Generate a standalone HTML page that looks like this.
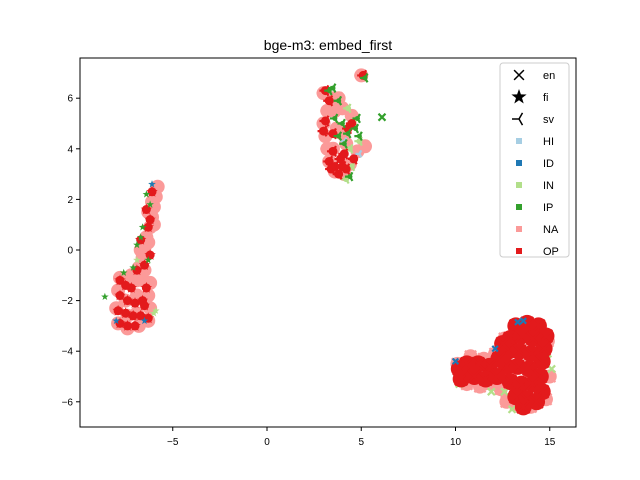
<!DOCTYPE html>
<html><head><meta charset="utf-8"><style>
body{margin:0;background:#fff;}
svg{display:block;font-family:"Liberation Sans","DejaVu Sans",sans-serif;}
</style></head><body>
<svg id="chart" width="640" height="480" viewBox="0 0 640 480">
<rect x="0" y="0" width="640" height="480" fill="#fff"/>
<text x="328" y="50" text-anchor="middle" font-size="14">bge-m3: embed_first</text>
<g id="marks"></g>
<rect x="80" y="58" width="496" height="369" fill="none" stroke="#000" stroke-width="1"/>
<g id="axes"></g>
<g id="legend"></g>
</svg>
<script>
const xTicks=[-5,0,5,10,15];
const yTicks=[-6,-4,-2,0,2,4,6];
const seriesNames=["HI","ID","IN","IP","NA","OP"];
const langNames=["en","fi","sv"];
// fi cluster (stars)
const fiNA=[[-5.8,2.5],[-5.9,2.1],[-6.0,1.7],[-6.1,1.3],[-6.2,0.9],[-6.4,0.5],[-6.5,0.1],[-6.6,-0.3],[-6.8,-0.7],[-6.3,0.3],[-6.0,1.0],[-6.5,-0.8],[-6.2,-1.3],[-6.3,-1.8],[-6.2,-2.3],[-6.3,-2.8],[-6.8,-3.0],[-7.4,-3.1],[-7.9,-2.9],[-8.0,-2.3],[-7.9,-1.6],[-7.8,-1.1],[-7.2,-1.0],[-6.9,-1.8],[-6.9,-2.5],[-7.5,-2.0],[-6.6,-1.2],[-6.1,1.9],[-6.3,1.5],[-6.7,0.0],[-6.9,-1.2],[-7.5,-1.3],[-7.4,-2.6]];
const fiOP=[[-7.8,-1.2],[-7.5,-1.4],[-7.2,-1.5],[-7.8,-1.8],[-7.4,-2.0],[-7.0,-2.1],[-6.6,-2.0],[-7.9,-2.4],[-7.5,-2.5],[-7.1,-2.6],[-6.7,-2.6],[-7.8,-2.9],[-7.4,-3.0],[-7.0,-3.0],[-6.5,-2.2],[-6.4,-1.5],[-6.3,-2.7],[-6.1,2.3],[-6.4,1.6],[-6.2,1.2],[-6.3,0.9],[-6.7,0.4],[-6.2,-0.2],[-6.5,-0.6],[-6.9,-0.8]];
const fiIP=[[-8.6,-1.85],[-7.1,-0.7],[-6.3,-0.4],[-6.9,0.2],[-6.7,0.5],[-6.6,0.9],[-6.2,1.8],[-6.4,2.2],[-7.6,-0.9]];
const fiIN=[[-6.0,-2.5],[-5.9,-2.4],[-6.9,-0.4],[-6.1,2.6]];
const fiID=[[-8.0,-2.8],[-6.5,-2.8],[-6.1,2.6]];
// sv cluster
const svNA=[[3.0,6.2],[3.2,5.5],[3.0,5.0],[3.1,4.5],[3.2,4.0],[3.3,3.5],[3.6,3.1],[4.1,3.0],[4.4,3.4],[4.8,3.9],[5.2,4.1],[4.2,4.2],[3.7,4.8],[3.6,5.5],[3.8,6.0],[5.0,6.9],[3.5,4.0],[4.5,5.3],[4.0,4.6],[3.4,6.0],[4.0,5.6]];
const svOP=[[3.1,6.3],[3.3,5.9],[3.1,5.1],[3.5,4.6],[3.0,4.7],[3.3,3.5],[3.6,3.3],[3.9,3.6],[4.2,3.2],[3.8,3.0],[4.1,3.8],[3.5,3.9],[4.3,4.8],[4.5,5.0],[5.1,6.9],[4.6,3.6],[3.4,3.2],[4.0,3.3]];
const svIP=[[3.5,6.4],[3.8,5.9],[4.0,5.0],[4.3,4.6],[4.7,4.8],[4.9,4.5],[4.1,4.2],[3.8,4.5],[3.6,5.2],[4.4,2.9],[5.2,6.8],[3.3,6.3],[4.8,5.2]];
const svIN=[[4.3,5.6],[4.6,5.1],[4.9,4.3],[4.4,4.0],[4.2,2.8],[4.5,3.3]];
const svHI=[[4.9,3.8],[4.1,4.3]];
// en cluster
const enOP=[[13.2,-3.0],[13.8,-2.9],[14.4,-3.0],[14.8,-3.4],[12.9,-3.5],[13.5,-3.4],[14.1,-3.5],[14.7,-3.9],[12.8,-4.0],[13.4,-4.0],[14.0,-4.1],[14.6,-4.4],[12.7,-4.6],[13.3,-4.6],[13.9,-4.7],[14.5,-5.0],[12.9,-5.2],[13.5,-5.3],[14.1,-5.3],[14.6,-5.6],[13.2,-5.8],[13.8,-5.9],[14.3,-6.0],[12.3,-4.3],[11.8,-4.6],[11.2,-4.5],[10.6,-4.5],[10.2,-4.7],[10.3,-5.1],[11.0,-5.0],[11.6,-5.1],[12.2,-5.0],[12.5,-3.7],[13.6,-6.2]];
const enNA=[[10.1,-4.5],[10.6,-5.3],[11.3,-5.4],[11.9,-5.3],[12.4,-5.5],[12.7,-6.0],[13.2,-6.1],[14.0,-6.2],[14.8,-5.9],[15.0,-5.0],[11.5,-4.3],[12.1,-4.1],[12.6,-3.5],[14.9,-3.6],[10.8,-4.2]];
const enIN=[[14.9,-4.1],[14.3,-4.4],[12.6,-5.6],[11.9,-5.6],[13.0,-6.3],[10.2,-5.3],[15.1,-4.7]];
const enID=[[13.3,-2.85],[10.0,-4.4],[12.1,-3.9],[13.6,-2.8]];
const enIP=[[6.1,5.25]];

const C={HI:"#a6cee3",ID:"#1f78b4",IN:"#b2df8a",IP:"#33a02c",NA:"#fb9a99",OP:"#e31a1c"};
const NS="http://www.w3.org/2000/svg";
function sx(v){return 267+18.85*v;}
function sy(v){return 250-25.3*v;}
function mk(tag,attrs,parent){const e=document.createElementNS(NS,tag);for(const k in attrs)e.setAttribute(k,attrs[k]);parent.appendChild(e);return e;}
function starPts(cx,cy,r){let p=[];for(let i=0;i<10;i++){const a=-Math.PI/2+i*Math.PI/5;const rr=i%2?r*0.4:r;p.push((cx+rr*Math.cos(a)).toFixed(1)+","+(cy+rr*Math.sin(a)).toFixed(1));}return p.join(" ");}
function drawMarker(g,shape,cx,cy,r,col,bold){
  if(shape==="fi"){return mk("polygon",{points:starPts(cx,cy,r),fill:col},g);}
  if(shape==="en"){return mk("path",{d:`M${cx-r*0.7},${cy-r*0.7}L${cx+r*0.7},${cy+r*0.7}M${cx-r*0.7},${cy+r*0.7}L${cx+r*0.7},${cy-r*0.7}`,stroke:col,"stroke-width":bold||2.2,fill:"none"},g);}
  return mk("path",{d:`M${cx},${cy}L${cx-r},${cy}M${cx},${cy}L${cx+r*0.5},${cy-r*0.87}M${cx},${cy}L${cx+r*0.5},${cy+r*0.87}`,stroke:col,"stroke-width":bold||2.2,fill:"none"},g);
}
const marks=document.getElementById("marks");
// [shape, series, data, marker radius, blob radius]
const layers=[["fi","NA",fiNA,7,7],["sv","NA",svNA,7,7],["en","NA",enNA,8,7],
 ["fi","IN",fiIN,4,0],["sv","IN",svIN,5,3],["en","IN",enIN,5,0],
 ["fi","OP",fiOP,6,4.5],["sv","OP",svOP,6,4.5],["en","OP",enOP,9,8.5],
 ["fi","ID",fiID,4,0],["en","ID",enID,4,0],["sv","HI",svHI,4,0],
 ["fi","IP",fiIP,4,0],["sv","IP",svIP,5,2.5],["en","IP",enIP,5,0]];
layers.forEach(([shape,ser,arr,r,br])=>{
  const g=mk("g",{},marks);
  
  
  arr.forEach(([x,y])=>{
    if(br>0){
      const c=mk("circle",{cx:sx(x),cy:sy(y),r:br,fill:C[ser]},g);
      
      
    }
    const m=drawMarker(g,shape,sx(x),sy(y),r,C[ser]);
    
    
  });
});
const axes=document.getElementById("axes");
xTicks.forEach(t=>{
  const l=mk("line",{x1:sx(t),x2:sx(t),y1:427,y2:431,stroke:"#000"},axes);
  
  
  const tx=mk("text",{x:sx(t),y:445,"text-anchor":"middle","font-size":"10"},axes);
  tx.textContent=t<0?"\u2212"+(-t):String(t);
  
  
});
yTicks.forEach(t=>{
  const l=mk("line",{x1:76,x2:80,y1:sy(t),y2:sy(t),stroke:"#000"},axes);
  
  
  const tx=mk("text",{x:73,y:sy(t)+3.5,"text-anchor":"end","font-size":"10"},axes);
  tx.textContent=t<0?"\u2212"+(-t):String(t);
  
  
});
const lg=document.getElementById("legend");
const box=mk("rect",{x:500,y:63,width:69,height:194,rx:3,fill:"#fff","fill-opacity":0.8,stroke:"#ccc"},lg);


const entries=langNames.concat(seriesNames);
entries.forEach((name,i)=>{
  const y=75+i*22;
  const g=mk("g",{},lg);
  
  
  if(i<3){drawMarker(g,name,519,y,name==="fi"?8:7,"#000",1.5);}
  else{mk("rect",{x:516,y:y-3,width:6,height:6,fill:C[name]},g);}
  const t=mk("text",{x:543,y:y+4,"font-size":"11"},g);
  t.textContent=name;
});
</script>
</body></html>
